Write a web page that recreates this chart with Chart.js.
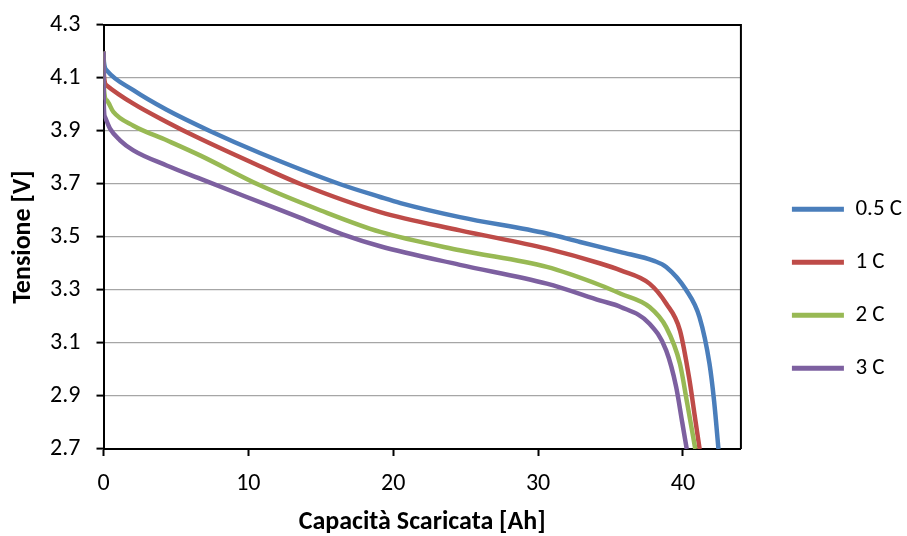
<!DOCTYPE html>
<html>
<head>
<title>Curve di scarica</title>
<script src="https://cdn.jsdelivr.net/npm/chart.js"></script>
<style>
  html, body { margin: 0; padding: 0; background: #fff; }
  #wrap { width: 907px; height: 536px; }
</style>
</head>
<body>
<div id="wrap"><canvas id="scarica" width="907" height="536"></canvas></div>

<script>
    // capacita' scaricata [Ah] e tensione [V]
    const cap05 = [0, 0.03, 0.22, 2.06, 4.36, 7.34, 10.8, 16.3, 19.1, 20.5, 24.6, 30.6, 32.9, 35.7, 38.0, 38.84, 40.22, 41.14, 41.83, 42.15, 42.45];
    const v05   = [4.2, 4.16, 4.129, 4.054, 3.98, 3.9, 3.817, 3.7, 3.651, 3.628, 3.575, 3.513, 3.481, 3.443, 3.41, 3.387, 3.3, 3.198, 3.022, 2.88, 2.7];

    const cap1 = [0, 0.03, 0.22, 2.06, 4.36, 6.43, 10.8, 13.6, 19.1, 24.6, 30.6, 34.3, 35.7, 37.69, 38.84, 39.79, 40.45, 40.8, 41.15];
    const v1   = [4.2, 4.11, 4.072, 4.003, 3.934, 3.877, 3.767, 3.7, 3.594, 3.525, 3.456, 3.4, 3.374, 3.324, 3.249, 3.148, 2.96, 2.83, 2.7];

    const cap2 = [0, 0.03, 0.22, 0.68, 2.06, 4.36, 6.66, 10.8, 15, 19.1, 24.6, 30.6, 34.3, 35.7, 37.69, 38.84, 39.79, 40.3, 40.85];
    const v2   = [4.2, 4.06, 4.016, 3.972, 3.92, 3.865, 3.808, 3.695, 3.6, 3.519, 3.45, 3.387, 3.318, 3.286, 3.236, 3.16, 3.022, 2.87, 2.7];

    const cap3 = [0, 0.02, 0.1, 0.45, 1.14, 2.06, 4.36, 6.66, 9.88, 13.6, 16.5, 19.1, 24.6, 30.6, 34.3, 35.7, 37.69, 38.84, 39.53, 39.95, 40.26];
    const v3   = [4.2, 4.0, 3.953, 3.909, 3.865, 3.827, 3.77, 3.72, 3.651, 3.572, 3.51, 3.465, 3.395, 3.324, 3.26, 3.236, 3.173, 3.072, 2.934, 2.8, 2.7];

    const serie = ['0.5 C', '1 C', '2 C', '3 C'];
    const colori = ['#4a7ebb', '#be4b48', '#98b954', '#7d60a0'];

    const xTicks = [0, 10, 20, 30, 40];
    const yTicks = [2.7, 2.9, 3.1, 3.3, 3.5, 3.7, 3.9, 4.1, 4.3];

    const FONT = 'Carlito, Lato, "Liberation Sans", sans-serif';

    function punti(xs, ys) {
        return xs.map((x, i) => ({ x: x, y: ys[i] }));
    }

    const dati = [punti(cap05, v05), punti(cap1, v1), punti(cap2, v2), punti(cap3, v3)];

    // cornice nera sopra e a destra dell'area del grafico
    const cornice = {
        id: 'cornice',
        afterDatasetsDraw(chart) {
            const a = chart.chartArea, c = chart.ctx;
            c.save();
            c.strokeStyle = '#000';
            c.lineWidth = 2;
            c.beginPath();
            c.moveTo(a.left, a.top);
            c.lineTo(a.right, a.top);
            c.lineTo(a.right, a.bottom);
            c.stroke();
            c.restore();
        }
    };

    // la legenda sta un po' piu' staccata dal grafico
    const spostaLegenda = {
        id: 'spostaLegenda',
        afterLayout(chart) {
            chart.legend.left += 21;
            chart.legend.right += 21;
        }
    };

    const chart = new Chart(document.getElementById('scarica'), {
        type: 'line',
        data: {
            datasets: dati.map((d, i) => ({
                label: serie[i],
                data: d,
                borderColor: colori[i],
                backgroundColor: colori[i],
                borderWidth: 4.5,
                pointRadius: 0,
                fill: false,
                order: dati.length - i,   // come in Excel: l'ultima serie sopra
                cubicInterpolationMode: 'monotone'
            }))
        },
        options: {
            responsive: false,
            animation: false,
            layout: { padding: { left: 8, top: 9, right: 16, bottom: 0 } },
            plugins: {
                tooltip: { enabled: false },
                legend: {
                    position: 'right',
                    title: { display: true, text: '', padding: { top: 18, bottom: 0 } },
                    labels: {
                        boxWidth: 52,
                        boxHeight: 5,
                        padding: 30,
                        color: '#000',
                        font: { family: FONT, size: 23 },
                        generateLabels(ch) {
                            return ch.data.datasets.map((ds, i) => ({
                                text: ds.label,
                                fillStyle: ds.borderColor,
                                strokeStyle: ds.borderColor,
                                lineWidth: 0,
                                fontColor: '#000',
                                datasetIndex: i
                            }));
                        }
                    }
                }
            },
            scales: {
                x: {
                    type: 'linear',
                    min: 0,
                    max: 44,
                    afterBuildTicks(s) { s.ticks = xTicks.map(v => ({ value: v })); },
                    afterFit(s) { s.height = 87; },
                    ticks: { color: '#000', font: { family: FONT, size: 24 }, padding: 14 },
                    grid: { drawOnChartArea: false, tickLength: 7, tickColor: '#000', tickWidth: 2 },
                    border: { color: '#000', width: 2 },
                    title: {
                        display: true,
                        text: 'Capacità Scaricata [Ah]',
                        color: '#000',
                        font: { family: FONT, size: 26, weight: 'bold' },
                        padding: { top: 8, bottom: -2 }
                    }
                },
                y: {
                    min: 2.7,
                    max: 4.3,
                    afterBuildTicks(s) { s.ticks = yTicks.map(v => ({ value: v })); },
                    afterFit(s) { s.width = 95.5; s.paddingTop = 25; },
                    ticks: {
                        color: '#000',
                        font: { family: FONT, size: 24 },
                        padding: 16,
                        callback: v => v.toFixed(1)
                    },
                    grid: { color: '#a6a6a6', lineWidth: 1.2, tickLength: 7, tickColor: '#000', tickWidth: 2 },
                    border: { color: '#000', width: 2 },
                    title: {
                        display: true,
                        text: 'Tensione [V]',
                        color: '#000',
                        font: { family: FONT, size: 26, weight: 'bold' },
                        padding: { top: 0, bottom: 4 }
                    }
                }
            }
        },
        plugins: [cornice, spostaLegenda]
    });
</script>
</body>
</html>
